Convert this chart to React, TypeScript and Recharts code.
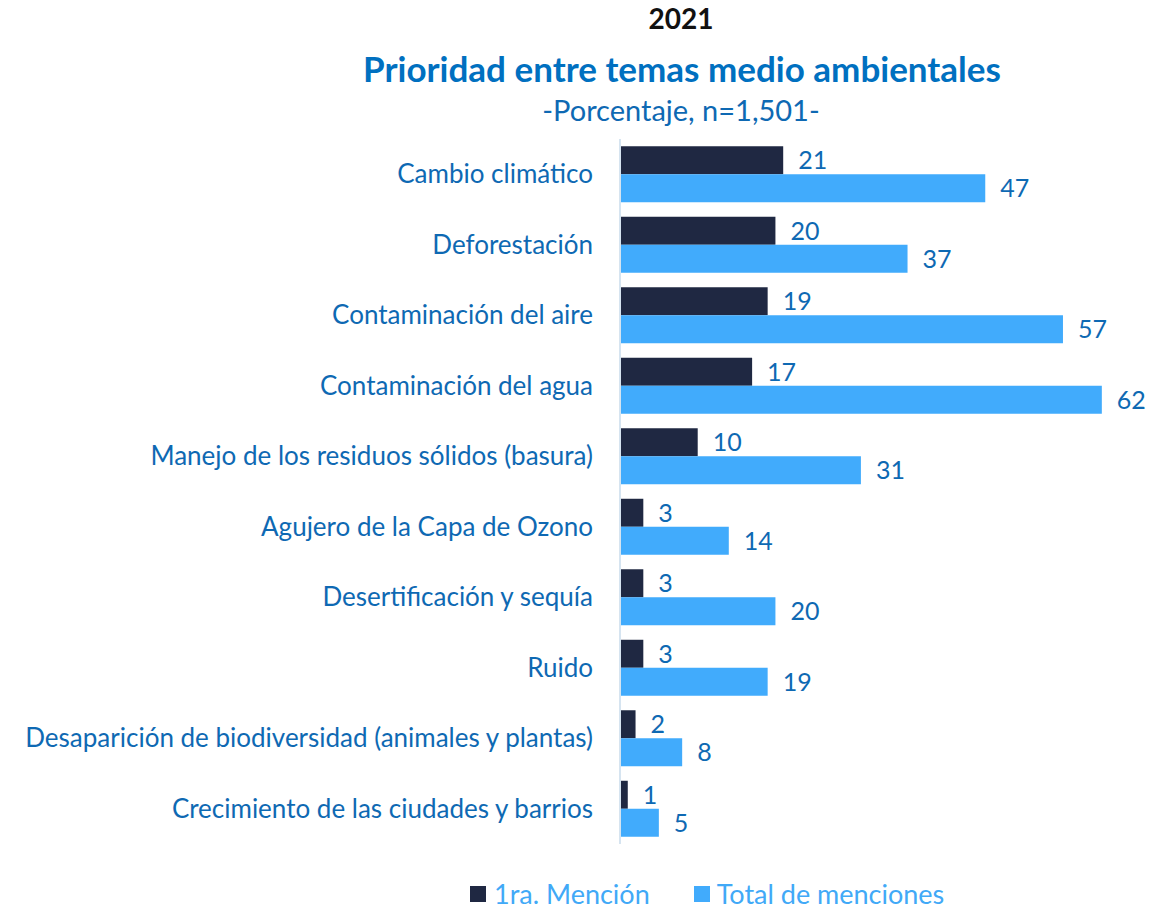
import React from 'react'
import { BarChart, Bar, XAxis, YAxis, LabelList } from 'recharts';

const temas = [
  'Cambio climático',
  'Deforestación',
  'Contaminación del aire',
  'Contaminación del agua',
  'Manejo de los residuos sólidos (basura)',
  'Agujero de la Capa de Ozono',
  'Desertificación y sequía',
  'Ruido',
  'Desaparición de biodiversidad (animales y plantas)',
  'Crecimiento de las ciudades y barrios',
];
const primeraMencion = [21, 20, 19, 17, 10, 3, 3, 3, 2, 1];
const totalMenciones = [47, 37, 57, 62, 31, 14, 20, 19, 8, 5];
const series = [
  { key: 'primera', name: '1ra. Mención' },
  { key: 'total', name: 'Total de menciones' },
];

const data = temas.map((tema, i) => ({
  tema,
  primera: primeraMencion[i],
  total: totalMenciones[i],
}));

const FONT = 'Lato, "Open Sans", sans-serif';
const DARK = '#1F2842';
const LIGHT = '#41ABFC';
const TEXT_BLUE = '#0E69B3';

const App = () => {
  return (
    <div style={{ position: 'absolute', top: 0, left: 0, width: 1171, height: 909, background: '#fff', fontFamily: FONT }}>
      <div style={{ position: 'absolute', top: 1, left: 0, width: 1362, textAlign: 'center', fontSize: 28, fontWeight: 700, color: '#111', lineHeight: '34px' }}>
        2021
      </div>
      <div style={{ position: 'absolute', top: 47, left: 0, width: 1364, textAlign: 'center', fontSize: 35, fontWeight: 700, color: '#0070C0', lineHeight: '42px' }}>
        Prioridad entre temas medio ambientales
      </div>
      <div style={{ position: 'absolute', top: 92, left: 0, width: 1362, textAlign: 'center', fontSize: 29, color: TEXT_BLUE, lineHeight: '36px' }}>
        -Porcentaje, n=1,501-
      </div>
      <BarChart
        width={1171}
        height={909}
        data={data}
        layout="vertical"
        margin={{ top: 139, right: 7, bottom: 65, left: 0 }}
        barCategoryGap="10.3%"
        barGap={0}
      >
        <XAxis type="number" domain={[0, 70]} hide />
        <YAxis
          type="category"
          dataKey="tema"
          width={620}
          axisLine={{ stroke: '#D6E4F0', strokeWidth: 2 }}
          tickLine={false}
          tickMargin={21}
          tick={{ fill: TEXT_BLUE, fontSize: 26, fontFamily: FONT }}
          interval={0}
        />
        <Bar dataKey="primera" fill={DARK} isAnimationActive={false}>
          <LabelList dataKey="primera" position="right" offset={15} fill={TEXT_BLUE} fontSize={25} fontFamily={FONT} />
        </Bar>
        <Bar dataKey="total" fill={LIGHT} isAnimationActive={false}>
          <LabelList dataKey="total" position="right" offset={15} fill={TEXT_BLUE} fontSize={25} fontFamily={FONT} />
        </Bar>
      </BarChart>
      <div style={{ position: 'absolute', left: 470, top: 880, height: 28, display: 'flex', alignItems: 'center', fontSize: 27, color: '#41A9F7', lineHeight: '28px' }}>
        <span style={{ width: 16, height: 16, background: DARK, display: 'inline-block', marginRight: 8 }} />
        <span style={{ marginRight: 44 }}>{series[0].name}</span>
        <span style={{ width: 16, height: 16, background: LIGHT, display: 'inline-block', marginRight: 7 }} />
        <span>{series[1].name}</span>
      </div>
    </div>
  )
}

export default App
